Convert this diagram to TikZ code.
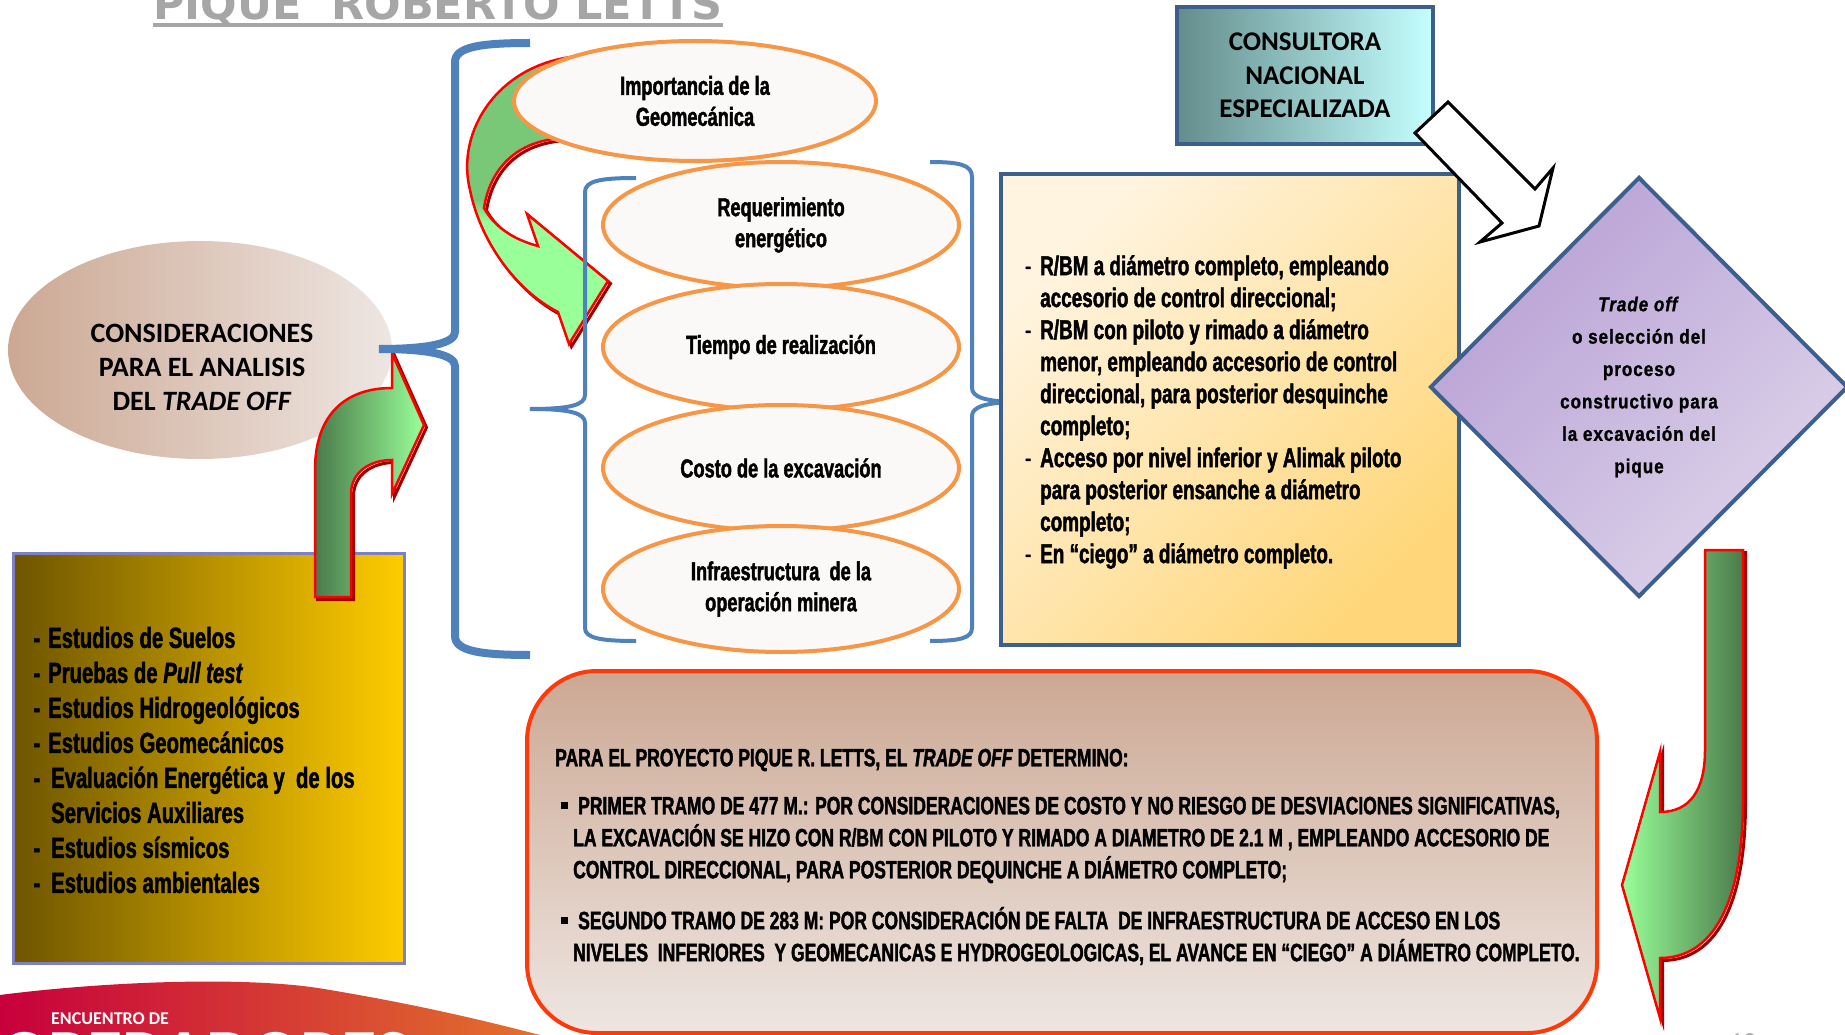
\documentclass[tikz,border=0pt]{standalone}
\usepackage{fontspec}
\setmainfont{Liberation Sans}
\newfontfamily\calfont{Carlito}
\newfontfamily\agfont[FakeStretch=0.7,FakeBold=1.6]{Liberation Sans}
\newfontfamily\diafont[FakeStretch=0.85,LetterSpace=5,FakeBold=1.2]{Liberation Sans}
\newfontfamily\ttlfont{DejaVu Sans}
\usetikzlibrary{shapes.geometric}

\definecolor{braceblue}{HTML}{4F81BD}
\definecolor{ellorange}{HTML}{F79646}
\definecolor{ellfill}{HTML}{FAF9F7}
\definecolor{boxblue}{HTML}{3C5F8E}
\definecolor{lilacline}{HTML}{7F80C4}
\definecolor{goldl}{HTML}{6E5500}
\definecolor{goldr}{HTML}{FFCC00}
\definecolor{considl}{HTML}{CCA893}
\definecolor{considr}{HTML}{EEE6E2}
\definecolor{darkgrn}{HTML}{4A7A4A}
\definecolor{lightgrn}{HTML}{99FF99}
\definecolor{midgrn}{HTML}{78C878}
\definecolor{darkred}{HTML}{A00000}
\definecolor{tealdark}{HTML}{648C8C}
\definecolor{cyanlight}{HTML}{C5FFFF}
\definecolor{cream}{HTML}{FFF4E0}
\definecolor{creamdark}{HTML}{FFD77A}
\definecolor{lilac}{HTML}{B8A0D5}
\definecolor{lilaclight}{HTML}{DDD3EA}
\definecolor{redorange}{HTML}{FF3A0A}
\definecolor{rosetop}{HTML}{CCA893}
\definecolor{rosebot}{HTML}{EEE6E2}
\definecolor{titlegray}{HTML}{A6A6A6}
\definecolor{logored}{HTML}{C7003C}
\definecolor{logoorange}{HTML}{E3722C}

% light lower half, darker upper half
\pgfdeclareverticalshading{topbend}{100bp}{color(0bp)=(lightgrn); color(46bp)=(lightgrn); color(50bp)=(midgrn); color(100bp)=(midgrn)}

\newcommand{\ydash}{\llap{-\hspace{8pt}}}
\newcommand{\rdash}{\llap{\mdseries-\hspace{9pt}}}
\newcommand{\sqbullet}{\llap{\raisebox{5pt}{\rule{7pt}{7pt}}\hspace{5pt}}\hspace*{5pt}}

\begin{document}
\begin{tikzpicture}[x=1pt, y=-1pt,
  bubble/.style={ellipse, draw=ellorange, line width=4pt, fill=ellfill, inner sep=0pt,
    minimum width=356pt, minimum height=126pt, align=center,
    font=\agfont\bfseries\fontsize{26}{31}\selectfont},
  bracket/.style={draw=braceblue, line width=4pt},
  greenarrow/.style={draw=red, line width=2.5pt,
    preaction={draw=darkred, line width=3pt, transform canvas={shift={(2.5pt,-2.5pt)}}}},
  listtext/.style={inner sep=0pt, anchor=west, align=left},
  framebox/.style={draw=boxblue, line width=4pt, inner sep=0pt}]
\useasboundingbox (0,0) rectangle (1845,1035);
\clip (0,0) rectangle (1845,1035);

% logo and title
\path[left color=logored, right color=logoorange]
  (0,995) .. controls (100,982) and (250,975) .. (330,990)
  .. controls (420,1005) and (490,1022) .. (540,1035) -- (0,1035) -- cycle;
\node[anchor=base west, text=white, inner sep=0pt, font=\calfont\bfseries\fontsize{18}{20}\selectfont] (enc) at (51,1024) {ENCUENTRO DE};
\node[anchor=base west, text=white, inner sep=0pt, font=\calfont\bfseries\fontsize{72}{80}\selectfont] (oper) at (0,1079) {OPERADORES};
\node[anchor=base west, text=titlegray, inner sep=0pt, font=\ttlfont\bfseries\fontsize{43}{50}\selectfont] (title) at (153,20) {PIQUE\ \ ROBERTO LETTS};
\draw[titlegray, line width=4pt] ([yshift=-5pt]title.base west) -- ([yshift=-5pt]title.base east);

% left side
\node[ellipse, minimum width=384pt, minimum height=218pt, inner sep=0pt, left color=considl, right color=considr] (consid) at (200,350) {};
\node[inner sep=0pt, align=center, font=\calfont\bfseries\fontsize{28}{34}\selectfont] (considtxt) at (202,367) {CONSIDERACIONES\\PARA EL ANALISIS\\DEL \textit{TRADE OFF}};

\node[rectangle, draw=lilacline, line width=3pt, inner sep=0pt, left color=goldl, right color=goldr, minimum width=391pt, minimum height=410pt] (studies) at (208.5,758) {};
\node[listtext, font=\agfont\bfseries\fontsize{29}{35}\selectfont] (studylist) at (48,760) {\ydash Estudios de Suelos\\
\ydash Pruebas de \textit{Pull test}\\
\ydash Estudios Hidrogeológicos\\
\ydash Estudios Geomecánicos\\
\ydash\hspace*{3pt}Evaluación Energética y\ \ de los\\
\hspace*{3pt}Servicios Auxiliares\\
\ydash\hspace*{3pt}Estudios sísmicos\\
\ydash\hspace*{3pt}Estudios ambientales};

\path[greenarrow, left color=darkgrn, right color=lightgrn]
  (315,597) -- (315,470) .. controls (315,415) and (345,388) .. (392,388)
  -- (392,353) -- (424,425) -- (392,494) -- (392,460)
  .. controls (370,460) and (351,472) .. (351,494) -- (351,597) -- cycle;

% bent arrow into the stack
\path[greenarrow, shading=topbend]
  (580,56) .. controls (500,62) and (455,130) .. (470,190)
  .. controls (480,240) and (515,290) .. (558,312)
  -- (569,344) -- (608,281) -- (527,214) -- (538,246)
  .. controls (515,240) and (495,228) .. (484,208)
  .. controls (490,170) and (515,140) .. (565,138) -- cycle;

% stack of factors
\node[bubble, minimum width=362pt, minimum height=120pt] (geomec) at (695,101) {Importancia de la\\Geomecánica};
\foreach \nm/\yy/\txt in {energy/225/{Requerimiento\\energético}, time/347/{Tiempo de realización},
    cost/468/{Costo de la excavación}, infra/589/{Infraestructura\ \ de la\\operación minera}}{
  \node[bubble] (\nm) at (781,\yy) {\txt};
}

% braces
\draw[bracket, line width=8pt] (530,43) .. controls (480,43) and (455,47) .. (455,62) -- (455,332)
  .. controls (455,343) and (430,349) .. (379,349) .. controls (430,349) and (455,355) .. (455,366)
  -- (455,636) .. controls (455,651) and (480,655) .. (530,655);
\draw[bracket] (636,178) .. controls (600,178) and (585,181) .. (585,192) -- (585,395)
  .. controls (585,405) and (570,409) .. (530,409) .. controls (570,409) and (585,413) .. (585,423)
  -- (585,628) .. controls (585,638) and (600,641) .. (636,641);
\draw[bracket] (930,162) .. controls (960,162) and (972,165) .. (972,177) -- (972,388)
  .. controls (972,397) and (985,402) .. (1021,402) .. controls (985,402) and (972,407) .. (972,416)
  -- (972,628) .. controls (972,638) and (960,641) .. (930,641);

% alternatives
\node[rectangle, framebox, top color=cream, bottom color=creamdark, shading angle=45, minimum width=458pt, minimum height=471pt] (options) at (1230,409.5) {};
\node[listtext, font=\agfont\bfseries\fontsize{27}{32}\selectfont] (optlist) at (1040,412) {\rdash R/BM a diámetro completo, empleando\\
accesorio de control direccional;\\
\rdash R/BM con piloto y rimado a diámetro\\
menor, empleando accesorio de control\\
direccional, para posterior desquinche\\
completo;\\
\rdash Acceso por nivel inferior y Alimak piloto\\
para posterior ensanche a diámetro\\
completo;\\
\rdash En “ciego” a diámetro completo.};

\node[rectangle, framebox, left color=tealdark, right color=cyanlight, minimum width=256pt, minimum height=137pt, align=center, font=\calfont\bfseries\fontsize{27}{33.5}\selectfont] (consult) at (1305,75.5) {CONSULTORA\\NACIONAL\\ESPECIALIZADA};
\draw[black, line width=3pt, fill=white] (1415,133) -- (1448,102) -- (1535,189) -- (1553,168)
  -- (1539,226) -- (1480,242) -- (1502,223) -- cycle;

\node[diamond, framebox, top color=lilac, bottom color=lilaclight, shading angle=45, minimum width=418pt, minimum height=420pt, align=center, font=\diafont\bfseries\fontsize{20}{32.4}\selectfont] (trade) at (1639,387) {\textit{Trade off}\\o selección del\\proceso\\constructivo para\\la excavación del\\pique};

\path[greenarrow, left color=lightgrn, right color=darkgrn]
  (1705,550) -- (1743,550) -- (1743,800) .. controls (1743,905) and (1712,958) .. (1660,958)
  -- (1660,1018) -- (1622,885) -- (1660,752) -- (1660,812)
  .. controls (1690,812) and (1705,790) .. (1705,750) -- cycle;

% result
\node[rectangle, rounded corners=70pt, draw=redorange, line width=4pt, top color=rosetop, bottom color=rosebot, minimum width=1070pt, minimum height=362pt] (verdict) at (1062,852) {};
\node[listtext, font=\agfont\bfseries\fontsize{25}{32}\selectfont] (vhead) at (555,760) {PARA EL PROYECTO PIQUE R. LETTS, EL \textit{TRADE OFF} DETERMINO:};
\node[listtext, font=\agfont\bfseries\fontsize{25}{32}\selectfont] (vfirst) at (573,840) {\sqbullet PRIMER TRAMO DE 477 M.: POR CONSIDERACIONES DE COSTO Y NO RIESGO DE DESVIACIONES SIGNIFICATIVAS,\\
LA EXCAVACIÓN SE HIZO CON R/BM CON PILOTO Y RIMADO A DIAMETRO DE 2.1 M , EMPLEANDO ACCESORIO DE\\
CONTROL DIRECCIONAL, PARA POSTERIOR DEQUINCHE A DIÁMETRO COMPLETO;};
\node[listtext, font=\agfont\bfseries\fontsize{25}{32}\selectfont] (vsecond) at (573,936) {\sqbullet SEGUNDO TRAMO DE 283 M: POR CONSIDERACIÓN DE FALTA\ \ DE INFRAESTRUCTURA DE ACCESO EN LOS\\
NIVELES\ \ INFERIORES\ \ Y GEOMECANICAS E HYDROGEOLOGICAS, EL AVANCE EN “CIEGO” A DIÁMETRO COMPLETO.};

\node[anchor=base, text=titlegray, inner sep=0pt, font=\calfont\fontsize{26}{30}\selectfont] (pgnum) at (1743,1050) {12};
\end{tikzpicture}
\end{document}
